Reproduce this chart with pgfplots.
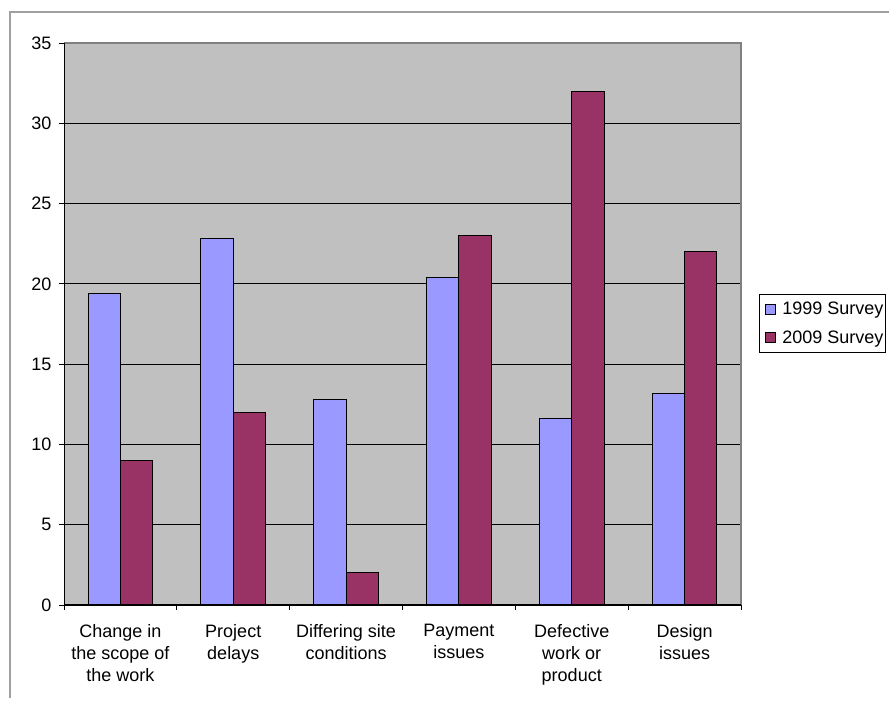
\documentclass[border=0pt]{standalone}
\usepackage{fontspec}
\setmainfont{Liberation Sans}
\usepackage{pgfplots}
\pgfplotsset{compat=1.18}
\definecolor{blu}{HTML}{9999FF}
\definecolor{plum}{HTML}{993366}
\definecolor{plotgray}{HTML}{C0C0C0}
\definecolor{framegray}{HTML}{A0A0A0}
\definecolor{bordergray}{HTML}{808080}

\begin{document}
\begin{tikzpicture}
\useasboundingbox (0,0) rectangle (889pt,701pt);
\fill[white] (0,0) rectangle (889pt,701pt);
\draw[color=framegray, line width=1.2pt] (10pt,3pt) -- (10pt,689pt) -- (895pt,689pt);
\begin{axis}[
  at={(64pt,96pt)}, anchor=south west,
  scale only axis, width=677pt, height=562pt,
  xmin=-0.5, xmax=5.5, ymin=0, ymax=35,
  clip=false,
  axis background/.style={fill=plotgray},
  axis line style={draw=none},
  ytick={0,5,...,35},
  ymajorgrids=true,
  grid style={black, line width=0.8pt},
  tick align=outside,
  tick pos=left,
  major tick length=5pt,
  tick style={black, line width=0.8pt},
  xtick={-0.5,0.5,...,5.5},
  xticklabels={},
  extra x ticks={0,1,2,3,4,5},
  extra x tick labels={Change in\\the scope of\\the work, Project\\delays, Differing site\\conditions, Payment\\issues, Defective\\work or\\product, Design\\issues},
  extra x tick style={major tick length=0pt, grid=none, tick pos=left},
  xticklabel style={align=center, anchor=north, font=\fontsize{18}{22}\selectfont, yshift=-16pt},
  yticklabel style={font=\fontsize{18}{20}\selectfont, xshift=-4pt},
  /pgf/number format/assume math mode=true,
  ybar=0pt,
  bar width=32.3pt,
  legend style={at={(1.0266,0.5534)}, anchor=north west, draw=black, line width=0.8pt,
    font=\fontsize{18}{20}\selectfont, inner xsep=0pt, inner ysep=6pt, row sep=10pt, fill=white},
  legend cell align=left,
]
\addplot[fill=blu, draw=black, line width=1pt, bar shift=-16.15pt,
  legend image code/.code={\path (0pt,0pt) (20pt,0pt); \draw[fill=blu, draw=black, line width=0.8pt] (5pt,-5pt) rectangle (15pt,5pt);}]
  coordinates {(0,19.4) (1,22.8) (2,12.8) (3,20.4) (4,11.6) (5,13.2)};
\addplot[fill=plum, draw=black, line width=1pt, bar shift=16.15pt,
  legend image code/.code={\path (0pt,0pt) (20pt,0pt); \draw[fill=plum, draw=black, line width=0.8pt] (5pt,-5pt) rectangle (15pt,5pt);}]
  coordinates {(0,9) (1,12) (2,2) (3,23) (4,32) (5,22)};
\legend{1999 Survey, 2009 Survey}
\draw[bordergray, line width=1.2pt] (rel axis cs:0,1) -- (rel axis cs:1,1) -- (rel axis cs:1,0);
\draw[black, line width=1pt] (rel axis cs:0,1) -- (rel axis cs:0,0) -- (rel axis cs:1,0);
\end{axis}
\end{tikzpicture}
\end{document}
